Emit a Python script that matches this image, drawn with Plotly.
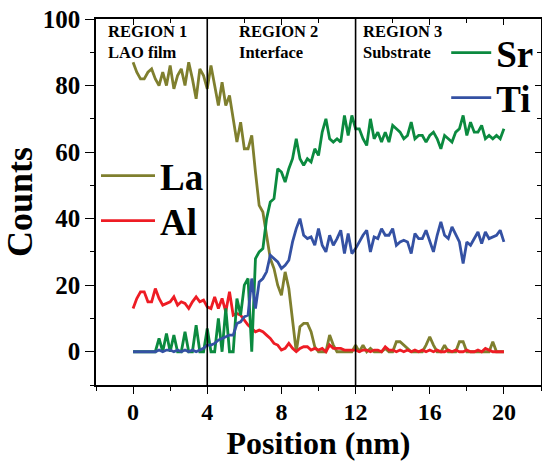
import plotly.graph_objects as go

position = [round(i * 0.2, 1) for i in range(101)]

la = [87, 84, 82, 82, 84, 85, 82, 80, 84, 80, 86, 79, 83, 85, 80, 87, 82, 76, 85, 83,
      79, 86, 80, 74, 81, 74, 77, 70, 63, 69, 61, 61, 65, 54, 44, 42, 35, 28, 25, 20,
      17, 24, 19, 10, 0, 7.5, 8.5, 8.5, 6, 1.5, 0, 0, 0, 5, 2, 0, 0, 0, 0, 0,
      2, 0, 2, 0, 1, 0, 0, 0, 1, 0, 0, 3, 3, 2, 1, 0, 0, 0, 0, 2,
      4.5, 2, 0, 0, 2, 0, 0, 0, 3, 3, 0, 0, 0, 0, 0, 0, 0, 3, 0, 0, 0]

al = [13, 16, 18, 18, 15, 15, 19, 16, 14, 14.5, 15, 16.5, 14, 15, 14.5, 13, 15, 16.5, 15, 15.5,
      13.5, 13, 16.5, 13, 16, 12, 18, 11, 11.5, 11, 9.5, 8, 7, 6, 6.5, 6, 5, 4, 2.5, 2,
      0.5, 1, 2.5, 1, 0, 1, 1.5, 1.5, 0.5, 1, 0.5, 1, 0, 2, 1, 1, 1, 0.5, 0.5, 0.5,
      0.5, 0, 0.5, 0.5, 0, 0.5, 0.5, 0, 1.5, 0.5, 0.5, 0, 0.5, 0, 0.5, 0, 0.5, 0, 0.5, 0,
      0.5, 0, 0.5, 0, 0, 0.5, 0, 0.5, 0, 0, 0.5, 0, 0, 0.5, 0, 1, 0.5, 0, 0, 0, 0]

sr = [0, 0, 0, 0, 0, 0, 0, 4, 0, 5.5, 0, 5, 0, 0, 6, 0, 0, 8, 0, 0,
      7, 0, 0, 10, 0, 13, 0, 0, 16, 11, 20, 22, 0, 28, 30, 31, 40, 45, 46, 55,
      54, 51, 55, 58, 64, 58, 56, 58, 57, 61, 59, 66, 70, 64, 63, 64, 63, 71, 65, 71,
      67, 67, 64, 62, 70, 64, 66, 63, 66, 63, 68, 67, 66, 64, 65, 69, 64, 65, 65, 63,
      65, 66, 64, 61, 65, 64, 63, 66, 67, 71, 65, 69, 66, 66, 68, 64, 65, 64, 65, 64, 67]

ti = [0, 0, 0, 0, 0, 0, 0, 0.5, 0, 0.5, 0.5, 0, 0.5, 0, 0.5, 0, 0.5, 0, 0.5, 1,
      2, 2, 2.5, 3.5, 4, 4.5, 5, 5, 8.5, 9, 10.5, 11, 22, 13, 21, 22, 24, 29, 28, 27,
      25, 26, 27.5, 33, 37, 40, 35, 34, 34.5, 32, 37, 32, 30, 35, 32, 34, 36.5, 29.5, 35.5, 29.5,
      31, 33, 35, 36.5, 30, 34.5, 34, 37, 35, 35, 37, 32, 33, 33.5, 33, 29.5, 35.5, 34, 34, 36.5,
      33, 30, 35, 39, 35, 34, 37.5, 35, 33, 26.5, 33, 32, 34, 36, 32.5, 36, 34, 34.5, 35, 36.5, 33]

region_x = [4, 12]
region_titles = ["REGION 1", "REGION 2", "REGION 3"]
region_subtitles = ["LAO film", "Interface", "Substrate"]
region_label_x = [-1.45, 5.6, 12.3]

x_ticks = [0, 4, 8, 12, 16, 20]
y_ticks = [0, 20, 40, 60, 80, 100]

FONT = "Liberation Serif, Times New Roman, Times, serif"
colors = {"La": "#7f7f2e", "Al": "#ee1c24", "Sr": "#0b8a3f", "Ti": "#3451a3"}

# one legend per series so each entry can sit where the reference puts it
legend_pos = {"La": (0.0, 0.571, 54), "Al": (0.0, 0.448, 54),
              "Sr": (0.787, 0.907, 40), "Ti": (0.787, 0.784, 40)}
legend_ids = {"La": "legend", "Al": "legend2", "Sr": "legend3", "Ti": "legend4"}

fig = go.Figure()
for name, vals in [("La", la), ("Al", al), ("Sr", sr), ("Ti", ti)]:
    fig.add_trace(go.Scatter(x=position, y=vals, mode="lines", name=name,
                             line=dict(color=colors[name], width=2.8),
                             legend=legend_ids[name], hoverinfo="skip"))

# invisible trace for mirrored (inward) top/right ticks
fig.add_trace(go.Scatter(x=[None], y=[None], xaxis="x2", yaxis="y2",
                         showlegend=False, hoverinfo="skip"))

for xv in region_x:
    fig.add_shape(type="line", x0=xv, x1=xv, y0=0, y1=1, xref="x", yref="paper",
                  line=dict(color="black", width=1.6))

for lx, t, s in zip(region_label_x, region_titles, region_subtitles):
    fig.add_annotation(x=lx, y=96.3, xref="x", yref="y", text=t, showarrow=False,
                       xanchor="left", yanchor="middle",
                       font=dict(family=FONT, size=16.5, color="black", weight="bold"))
    fig.add_annotation(x=lx, y=90.0, xref="x", yref="y", text=s, showarrow=False,
                       xanchor="left", yanchor="middle",
                       font=dict(family=FONT, size=16.5, color="black", weight="bold"))

axis_common = dict(showgrid=False, zeroline=False, showline=True, linecolor="black",
                   linewidth=1.5, tickcolor="black", tickwidth=1.3, automargin=False)

layout_legends = {}
for name, lid in legend_ids.items():
    lx, ly, iw = legend_pos[name]
    layout_legends[lid] = dict(x=lx, y=ly, xanchor="left", yanchor="middle",
                               bgcolor="rgba(0,0,0,0)", itemwidth=iw,
                               font=dict(family=FONT, size=37, weight="bold", color="black"))

fig.update_layout(
    width=542, height=464,
    margin=dict(l=96, r=1, t=19, b=79, autoexpand=False),
    paper_bgcolor="white", plot_bgcolor="white",
    font=dict(family=FONT, color="black"),
    xaxis=dict(range=[-2, 22], tickvals=x_ticks, ticks="outside", ticklen=7,
               ticklabelstandoff=-3,
               minor=dict(dtick=2, tick0=0, ticks="outside", ticklen=4, tickcolor="black", tickwidth=1.3),
               tickfont=dict(family=FONT, size=24, weight="bold"),
               title=dict(text="Position (nm)", standoff=1,
                          font=dict(family=FONT, size=32, weight="bold")),
               **axis_common),
    yaxis=dict(range=[-10, 100], tickvals=y_ticks, ticks="outside", ticklen=9,
               minor=dict(dtick=10, tick0=0, ticks="outside", ticklen=4, tickcolor="black", tickwidth=1.3),
               tickfont=dict(family=FONT, size=25, weight="bold"),
               title=dict(text="Counts", standoff=2,
                          font=dict(family=FONT, size=36, weight="bold")),
               **axis_common),
    xaxis2=dict(range=[-2, 22], overlaying="x", side="top", anchor="y",
                tickvals=x_ticks, ticks="inside", ticklen=6, showticklabels=False,
                minor=dict(dtick=2, tick0=0, ticks="inside", ticklen=4, tickcolor="black", tickwidth=1.3),
                **axis_common),
    yaxis2=dict(range=[-10, 100], overlaying="y", side="right", anchor="x",
                tickvals=y_ticks, ticks="inside", ticklen=6, showticklabels=False,
                minor=dict(dtick=10, tick0=0, ticks="inside", ticklen=4, tickcolor="black", tickwidth=1.3),
                **axis_common),
    showlegend=True,
    **layout_legends,
)

fig.write_html("out.html", config={"displayModeBar": False},
               post_script="document.body.style.margin='0px';document.body.style.overflow='hidden';")
